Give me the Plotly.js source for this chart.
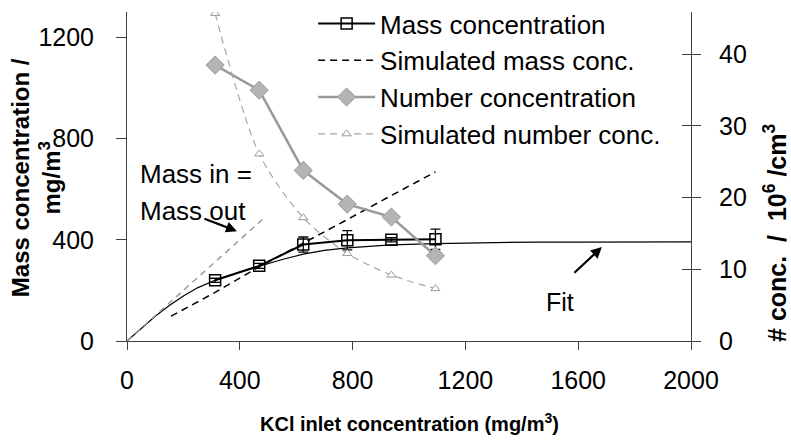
<!DOCTYPE html>
<html><head><meta charset="utf-8">
<script src="https://cdn.plot.ly/plotly-3.0.1.min.js"></script>
<style>html,body{margin:0;padding:0;background:#fff;}#chart{width:791px;height:443px;}</style>
</head><body><div id="chart"></div>
<script>
// ---- data ----
const massX = [312.5, 468.75, 625, 781.25, 937.5, 1093.75];
const massY = [240, 297, 381, 398, 400, 402];
const massErr = [8, 10, 30, 38, 8, 40];
const simMassX = [156.25, 312.5, 468.75, 625, 781.25, 937.5, 1093.75];
const simMassY = [98, 192, 293, 385, 480, 575, 668];
const numX = [312.5, 468.75, 625, 781.25, 937.5, 1093.75];
const numY = [38.5, 35.0, 23.8, 19.1, 17.3, 11.9];
const simNumX = [312.5, 468.75, 625, 781.25, 937.5, 1093.75];
const simNumY = [45.7, 26.1, 17.2, 12.2, 9.2, 7.3];
const fitX = [0, 50, 100, 150, 200, 250, 312, 400, 468, 550, 625, 700, 781, 860, 937, 1094, 1250, 1350, 1450, 1600, 2000];
const fitY = [0, 50, 98, 140, 178, 210, 240, 272, 296, 322, 343, 358, 368, 375, 380, 385, 388, 389, 391, 391, 392];
const balX = [0, 490];
const balY = [0, 490];
const xTicks = [0, 400, 800, 1200, 1600, 2000];
const yTicks = [0, 400, 800, 1200];
const y2Ticks = [0, 10, 20, 30, 40];
const names = ['Mass concentration', 'Simulated mass conc.', 'Number concentration', 'Simulated number conc.'];

const FONT = 'Liberation Sans, Arial, sans-serif';
const AX = '#404040';

const traces = [
  {x: fitX, y: fitY, mode: 'lines', line: {color: '#000', width: 1.2}, showlegend: false, hoverinfo: 'skip'},
  {x: balX, y: balY, mode: 'lines', line: {color: '#9a9a9a', width: 1.5, dash: '6px,5px'}, showlegend: false},
  {x: massX, y: massY, name: names[0], legendgroup: 'a', mode: 'lines+markers',
   line: {color: '#000', width: 2},
   marker: {symbol: 'square-open', size: 11, color: '#000', line: {width: 1.5, color: '#000'}},
   error_y: {type: 'data', array: massErr, visible: true, color: '#000', thickness: 1.3, width: 5}},
  {x: simMassX, y: simMassY, name: names[1], legendgroup: 'b', mode: 'lines',
   line: {color: '#000', width: 1.5, dash: '7px,5px'}},
  {x: numX, y: numY, name: names[2], legendgroup: 'c', yaxis: 'y2', mode: 'lines+markers',
   line: {color: '#999999', width: 2.5},
   marker: {symbol: 'diamond', size: 14, color: '#b4b4b4', line: {width: 1, color: '#9a9a9a'}}},
  {x: simNumX, y: simNumY, name: names[3], legendgroup: 'd', yaxis: 'y3', mode: 'lines+markers',
   line: {color: '#a6a6a6', width: 1.2, dash: '7px,5px', shape: 'spline', smoothing: 0.8},
   marker: {symbol: 'triangle-up', size: 8, color: '#ffffff', line: {width: 1, color: '#999999'}}}
];

const tickFont = {family: FONT, size: 25, color: '#000'};
const DOM = [0, 329 / 341];
const layout = {
  width: 791, height: 443,
  margin: {l: 127, r: 100, t: 0, b: 102},
  paper_bgcolor: '#fff', plot_bgcolor: '#fff',
  font: {family: FONT, color: '#000'},
  showlegend: true,
  legend: {x: 0.33, y: 1.0, xanchor: 'left', yanchor: 'top', bgcolor: 'rgba(0,0,0,0)', itemwidth: 57,
           font: {family: FONT, size: 26, color: '#000'}, traceorder: 'normal', tracegroupgap: 5},
  xaxis: {range: [0, 2000], tickvals: xTicks, showgrid: false, zeroline: false, showline: true,
          linecolor: AX, linewidth: 1, ticks: 'outside', ticklen: 8, tickcolor: AX, tickfont: tickFont,
          ticklabelstandoff: 9},
  yaxis: {domain: DOM, range: [0, 1300], tickvals: yTicks, showgrid: false, zeroline: false, showline: true,
          linecolor: AX, linewidth: 1, ticks: 'outside', ticklen: 10, tickcolor: AX, tickfont: tickFont,
          ticklabelstandoff: 17},
  yaxis2: {domain: DOM, range: [0, 45.9], tickvals: y2Ticks, overlaying: 'y', side: 'right', anchor: 'x',
           showgrid: false, zeroline: false, showline: true, linecolor: AX, linewidth: 1,
           ticks: 'outside', ticklen: 9, tickcolor: AX, tickfont: tickFont, ticklabelstandoff: 13},
  yaxis3: {domain: DOM, range: [0, 45.9], tickvals: y2Ticks, overlaying: 'y', side: 'right', anchor: 'x',
           showgrid: false, zeroline: false, showline: false, showticklabels: false,
           ticks: 'inside', ticklen: 9, tickcolor: AX},
  annotations: [
    {xref: 'paper', yref: 'paper', x: -0.161, y: 0.478, xanchor: 'center', yanchor: 'middle', textangle: -90, showarrow: false,
     text: '<b>Mass concentration /<br>mg/m<sup>3</sup></b>', font: {family: FONT, size: 24, color: '#000'}},
    {xref: 'paper', yref: 'paper', x: 1.149, y: 0.317, xanchor: 'center', yanchor: 'middle', textangle: -90, showarrow: false,
     text: '<b># conc.&nbsp;&nbsp;/&nbsp;&nbsp;10<sup>6</sup> /cm<sup>3</sup></b>', font: {family: FONT, size: 25, color: '#000'}},
    {xref: 'paper', yref: 'paper', x: 0.5, y: -0.240, xanchor: 'center', yanchor: 'middle', showarrow: false,
     text: '<b>KCl inlet concentration (mg/m<sup>3</sup>)</b>', font: {family: FONT, size: 20, color: '#000'}},
    {xref: 'x', yref: 'y', x: 39, y: 660, xanchor: 'left', yanchor: 'middle', showarrow: false,
     text: 'Mass in =', font: {family: FONT, size: 26, color: '#000'}},
    {xref: 'x', yref: 'y', x: 39, y: 515, xanchor: 'left', yanchor: 'middle', showarrow: false,
     text: 'Mass out', font: {family: FONT, size: 26, color: '#000'}},
    {xref: 'x', yref: 'y', x: 390, y: 434, ax: -34, ay: -13, text: '', showarrow: true,
     arrowhead: 2, arrowsize: 1, arrowwidth: 2.2, arrowcolor: '#000'},
    {xref: 'x', yref: 'y', x: 1535, y: 154, xanchor: 'center', yanchor: 'middle', showarrow: false,
     text: 'Fit', font: {family: FONT, size: 25, color: '#000'}},
    {xref: 'x', yref: 'y', x: 1684, y: 371, ax: -29, ay: 27, text: '', showarrow: true,
     arrowhead: 2, arrowsize: 1, arrowwidth: 2.2, arrowcolor: '#000'}
  ]
};

Plotly.newPlot('chart', traces, layout, {displayModeBar: false, staticPlot: true});
</script>
</body></html>
